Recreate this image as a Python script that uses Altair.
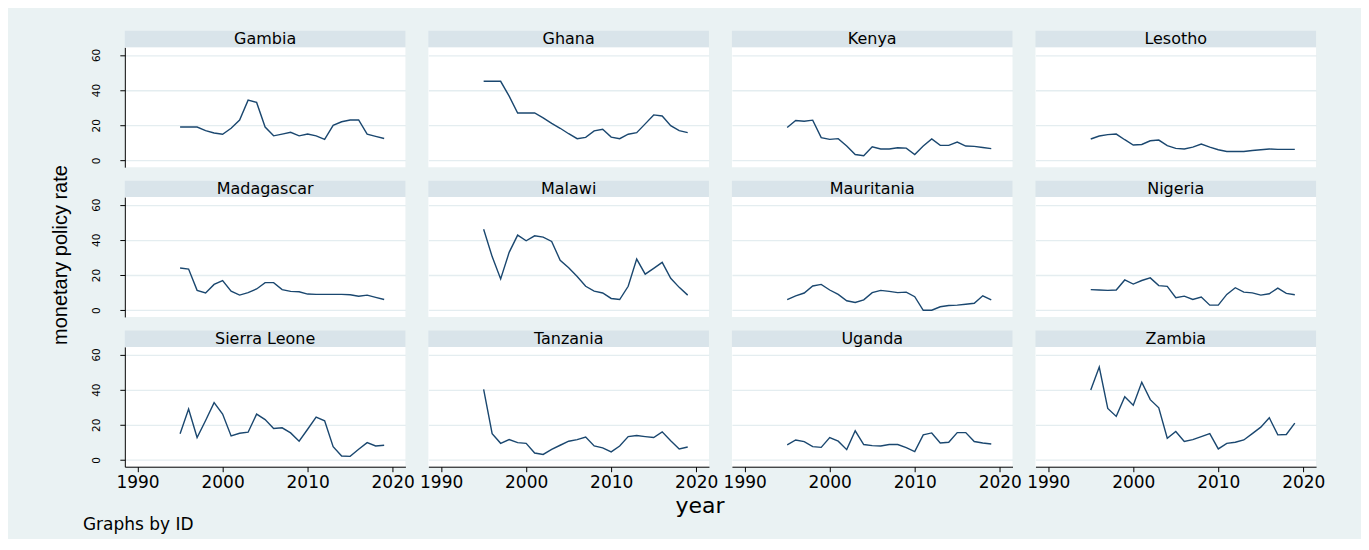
import altair as alt
import pandas as pd

years = list(range(1995, 2020))
ids = ["Gambia", "Ghana", "Kenya", "Lesotho", "Madagascar", "Malawi",
       "Mauritania", "Nigeria", "Sierra Leone", "Tanzania", "Uganda", "Zambia"]

gambia = [19.0, 19.0, 19.0, 17.0, 15.6, 14.9, 18.3, 23.0, 34.3, 33.0, 19.0, 14.0, 15.0,
          16.0, 14.0, 15.0, 14.0, 12.0, 20.0, 22.0, 23.0, 23.0, 15.0, 13.7, 12.5]
ghana = [45.0, 45.0, 45.0, 36.6, 27.0, 27.0, 27.0, 24.2, 21.1, 18.3, 15.2, 12.4, 13.1,
         16.8, 17.7, 13.3, 12.4, 14.9, 15.8, 20.8, 25.9, 25.3, 19.8, 17.0, 15.8]
kenya = [18.7, 22.7, 22.3, 22.9, 13.0, 12.0, 12.4, 8.2, 3.4, 2.7, 7.8, 6.5, 6.5,
         7.2, 7.0, 3.4, 8.2, 12.2, 8.6, 8.6, 10.5, 8.2, 8.0, 7.4, 6.7]
lesotho = [12.2, 13.9, 14.7, 15.0, 11.8, 8.8, 9.1, 11.2, 11.6, 8.4, 6.9, 6.5, 7.6,
           9.3, 7.6, 6.1, 5.1, 5.1, 5.1, 5.7, 6.1, 6.5, 6.3, 6.3, 6.3]
madagascar = [24.0, 23.4, 11.3, 9.8, 14.7, 16.9, 10.9, 8.6, 10.0, 12.1, 15.7, 15.7, 11.7,
              10.7, 10.5, 9.2, 9.0, 9.0, 9.0, 9.0, 8.8, 8.0, 8.6, 7.3, 6.1]
malawi = [46.0, 30.5, 17.8, 32.9, 42.7, 39.5, 42.3, 41.6, 39.1, 28.4, 24.1, 19.2, 13.6,
          10.9, 9.8, 6.7, 6.1, 13.6, 29.1, 20.5, 23.8, 27.2, 18.2, 13.0, 8.6]
mauritania = [6.1, 8.2, 9.8, 13.8, 14.7, 11.5, 9.0, 5.4, 4.4, 5.9, 10.0, 11.3, 10.7,
              10.0, 10.3, 7.7, 0.0, 0.0, 2.0, 2.7, 2.9, 3.4, 4.0, 8.2, 5.9]
nigeria = [11.7, 11.5, 11.3, 11.5, 17.2, 14.9, 16.9, 18.4, 14.0, 13.6, 7.1, 8.0, 6.1,
           7.5, 2.9, 2.9, 9.0, 12.8, 10.3, 9.9, 8.6, 9.4, 12.6, 9.6, 8.8]
sierra_leone = [14.9, 29.0, 12.8, 22.5, 32.6, 26.1, 13.7, 15.2, 15.8, 26.1, 23.0, 17.9, 18.3,
                15.4, 10.7, 17.5, 24.4, 22.3, 7.6, 2.3, 2.1, 6.1, 9.9, 8.0, 8.4]
tanzania = [40.2, 15.0, 9.5, 11.6, 9.9, 9.5, 4.0, 3.2, 6.1, 8.4, 10.7, 11.6, 13.1,
            8.0, 6.9, 4.6, 8.0, 13.3, 13.9, 13.3, 12.8, 16.0, 11.0, 6.3, 7.4]
uganda = [8.6, 11.4, 10.5, 7.6, 7.2, 12.8, 10.7, 5.9, 16.6, 8.8, 8.2, 8.0, 8.8,
          8.8, 7.0, 4.8, 14.3, 15.4, 9.7, 10.1, 15.6, 15.6, 10.5, 9.7, 9.1]
zambia = [39.8, 52.8, 29.3, 24.8, 36.0, 31.2, 44.2, 34.3, 29.7, 12.4, 16.2, 10.5, 11.6,
          13.3, 15.0, 6.3, 9.5, 10.1, 11.4, 15.0, 18.7, 24.0, 14.3, 14.5, 21.0]

series = [gambia, ghana, kenya, lesotho, madagascar, malawi, mauritania, nigeria,
          sierra_leone, tanzania, uganda, zambia]

y_title = "monetary policy rate"
x_title = "year"
note = "Graphs by ID"

PW, PH = 281, 120
LINE = "#1a476f"
BG = "#eaf2f3"
STRIP = "#d9e4ea"
GRID = "#e4edf0"
FONT = "DejaVu Sans"

xscale = alt.Scale(domain=[1988.5, 2021.5], nice=False, zero=False)
yscale = alt.Scale(domain=[-3.8, 64.3], nice=False, zero=False)

x_axis_full = alt.Axis(values=[1990, 2000, 2010, 2020], format="d", title=None,
                       grid=False, domainColor="#000000", tickColor="#000000",
                       tickSize=5, labelFontSize=17, labelFont=FONT,
                       labelColor="#000000", labelPadding=3, domainWidth=1)
y_axis_full = alt.Axis(values=[0, 20, 40, 60], title=None, grid=True,
                       gridColor=GRID, gridWidth=1.3,
                       domainColor="#000000", tickColor="#000000", tickSize=5,
                       labelFontSize=10.5, labelFont=FONT, labelColor="#000000",
                       labelAngle=270, labelPadding=18, domainWidth=1)
y_axis_grid = alt.Axis(values=[0, 20, 40, 60], title=None, grid=True,
                       gridColor=GRID, gridWidth=1.3, labels=False, ticks=False,
                       domain=False)

panels = []
for i, (name, vals) in enumerate(zip(ids, series)):
    r, c = divmod(i, 4)
    d = pd.DataFrame({"year": years, "rate": vals, "ID": name})
    head = pd.DataFrame({"ID": [name]})
    xa = x_axis_full if r == 2 else None
    ya = y_axis_full if c == 0 else y_axis_grid
    line = alt.Chart(d).mark_line(color=LINE, strokeWidth=1.4).encode(
        x=alt.X("year:Q", scale=xscale, axis=xa),
        y=alt.Y("rate:Q", scale=yscale, axis=ya))
    strip = alt.Chart(head).mark_rect(color=STRIP).encode(
        x=alt.value(0), x2=alt.value(PW), y=alt.value(-16.5), y2=alt.value(0))
    label = alt.Chart(head).mark_text(fontSize=16, font=FONT, color="#000000",
                                      baseline="middle", align="center").encode(
        x=alt.value(PW / 2), y=alt.value(-8), text="ID:N")
    layers = [strip, label, line]
    if r == 1 and c == 0:
        layers.append(alt.Chart(pd.DataFrame({"t": [y_title]})).mark_text(
            fontSize=20, font="Liberation Sans", color="#000000", angle=270,
            align="center", baseline="middle").encode(
            x=alt.value(-64), y=alt.value(58), text="t:N"))
    if r == 2 and c == 0:
        layers.append(alt.Chart(pd.DataFrame({"t": [x_title]})).mark_text(
            fontSize=22, font=FONT, color="#000000",
            align="center", baseline="middle").encode(
            x=alt.value(576), y=alt.value(159), text="t:N"))
        layers.append(alt.Chart(pd.DataFrame({"t": [note]})).mark_text(
            fontSize=17, font=FONT, color="#000000",
            align="left", baseline="middle").encode(
            x=alt.value(-42), y=alt.value(178), text="t:N"))
    panel = alt.layer(*layers).properties(
        width=PW, height=PH, view=alt.ViewBackground(fill="white", stroke=None))
    panels.append(panel)

chart = alt.concat(*panels, columns=4, spacing={"row": 30, "column": 23},
                   bounds="flush").properties(
    padding={"left": 42, "top": 22, "right": 36, "bottom": 6},
    background=BG,
).configure_view(stroke=None)

chart.save("out.html", embed_options={"renderer": "svg", "actions": False})
